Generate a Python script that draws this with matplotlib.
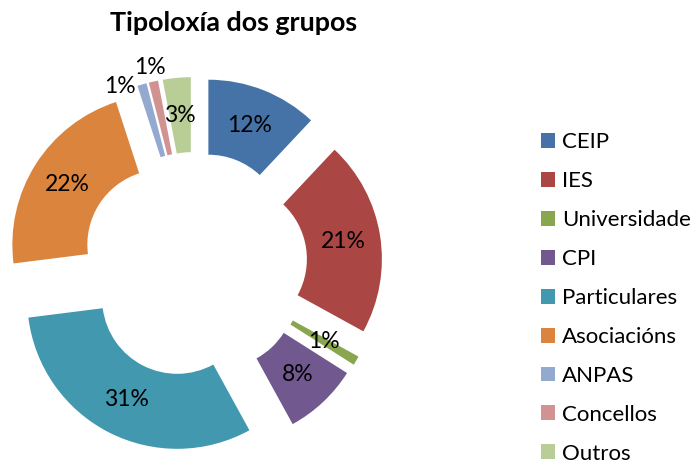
import matplotlib
matplotlib.use("Agg")
import matplotlib.pyplot as plt
import numpy as np

categories = ["CEIP", "IES", "Universidade", "CPI", "Particulares",
              "Asociacións", "ANPAS", "Concellos", "Outros"]
values = [12, 21, 1, 8, 31, 22, 1, 1, 3]
colors = ["#4572A7", "#AA4643", "#89A54E", "#71588F", "#4198AF",
          "#DB843D", "#93A9CF", "#D19392", "#B9CD96"]
title = "Tipoloxía dos grupos"

plt.rcParams['font.family'] = ['Lato', 'DejaVu Sans']

W, H = 695, 467
fig = plt.figure(figsize=(W / 100, H / 100), dpi=100)

# pie axes: centre of (unexploded) pie at pixel (194, 265 from top), radius 150 px
R_px = 150.0
cx, cy = 194.4, H - 265.0
a = 1.35
half = a * R_px
ax = fig.add_axes([(cx - half) / W, (cy - half) / H, 2 * half / W, 2 * half / H])

explode = [0.253] * len(values)
wedges, texts, autotexts = ax.pie(
    values, colors=colors, explode=explode, startangle=90, counterclock=False,
    radius=1.0, pctdistance=0.75, autopct=lambda p: f"{p:.0f}%",
    wedgeprops=dict(width=0.5, edgecolor='none'),
    textprops=dict(fontsize=16.5, color='black'))

# move the two small labels (ANPAS, Concellos) outside, as in the reference
for idx, (ang_deg, dist) in {6: (337.4, 1.29), 7: (347.3, 1.35)}.items():
    th = np.deg2rad(ang_deg)
    autotexts[idx].set_position((dist * np.sin(th), dist * np.cos(th)))

ax.set_xlim(-a, a)
ax.set_ylim(-a, a)
ax.set_aspect('equal')
ax.axis('off')

fig.text(234 / W, 1 - 23 / H, title, ha='center', va='center',
         fontsize=19.4, fontweight='bold')

leg = fig.legend(wedges, categories, loc='center left',
                 bbox_to_anchor=(541 / W, 1 - 298 / H),
                 frameon=False, fontsize=16, handlelength=0.65,
                 handleheight=0.65, handletextpad=0.3, labelspacing=0.85,
                 borderpad=0, borderaxespad=0)

fig.savefig("out.png", dpi=100)
